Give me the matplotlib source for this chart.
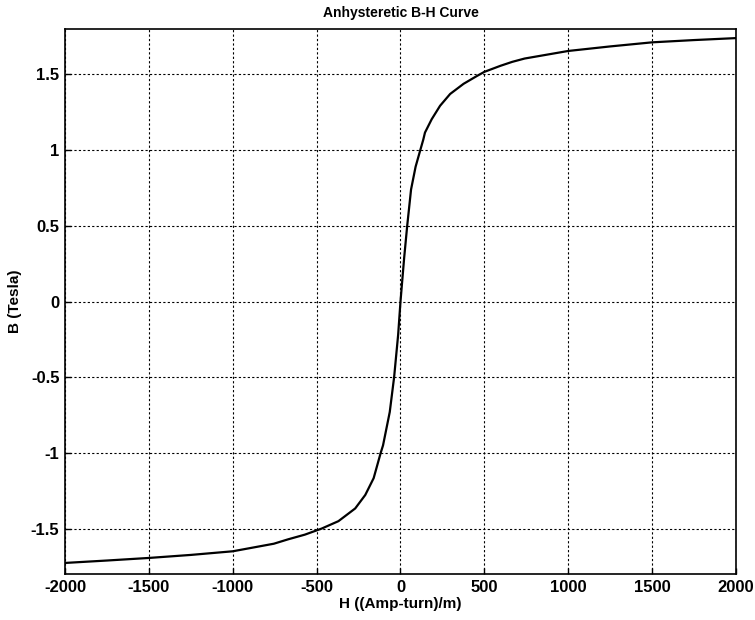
import matplotlib
matplotlib.use("Agg")
import matplotlib.pyplot as plt

H = [-2000, -1750, -1500, -1250, -1000, -755, -670, -570, -470, -370, -270, -210, -160,
     -118, -104, -64, -38, -14, 0,
     22, 40, 63, 90, 118, 136, 146, 186, 236, 296, 376, 456, 500, 596, 666, 740,
     1000, 1250, 1500, 1750, 2000]
B = [-1.727, -1.711, -1.694, -1.674, -1.65, -1.60, -1.571, -1.54, -1.50, -1.451, -1.367, -1.278, -1.167,
     -1.0, -0.95, -0.73, -0.5, -0.22, 0.0,
     0.29, 0.5, 0.74, 0.89, 1.0, 1.07, 1.116, 1.204, 1.293, 1.371, 1.438, 1.49, 1.517, 1.557, 1.583, 1.605,
     1.655, 1.685, 1.712, 1.727, 1.74]
xticks = [-2000, -1500, -1000, -500, 0, 500, 1000, 1500, 2000]
yticks = [-1.5, -1, -0.5, 0, 0.5, 1, 1.5]
ytick_labels = ["-1.5", "-1", "-0.5", "0", "0.5", "1", "1.5"]

plt.rcParams["font.family"] = ["Liberation Sans", "DejaVu Sans"]
plt.rcParams["font.weight"] = "bold"
plt.rcParams["axes.unicode_minus"] = False

fig = plt.figure(figsize=(7.55, 6.2), dpi=100)
ax = fig.add_axes([0.0861, 0.0742, 0.8887, 0.879])
ax.plot(H, B, color="black", linewidth=1.6, solid_joinstyle="round")
ax.set_xlim(-2000, 2000)
ax.set_ylim(-1.8, 1.8)
ax.set_xticks(xticks)
ax.set_yticks(yticks)
ax.set_yticklabels(ytick_labels)
ax.grid(True, color="black", linestyle=(0, (2, 2)), linewidth=0.8)
ax.tick_params(direction="in", length=4, labelsize=12, width=1, pad=4)
for lab in ax.get_xticklabels() + ax.get_yticklabels():
    lab.set_fontweight("bold")
for s in ax.spines.values():
    s.set_linewidth(1.2)
ax.set_title("Anhysteretic B-H Curve", fontsize=10, fontweight="bold", pad=9)
ax.set_xlabel("H ((Amp-turn)/m)", fontsize=11, fontweight="bold", labelpad=2)
ax.set_ylabel("B (Tesla)", fontsize=11, fontweight="bold", labelpad=6)
fig.savefig("out.png", dpi=100)
